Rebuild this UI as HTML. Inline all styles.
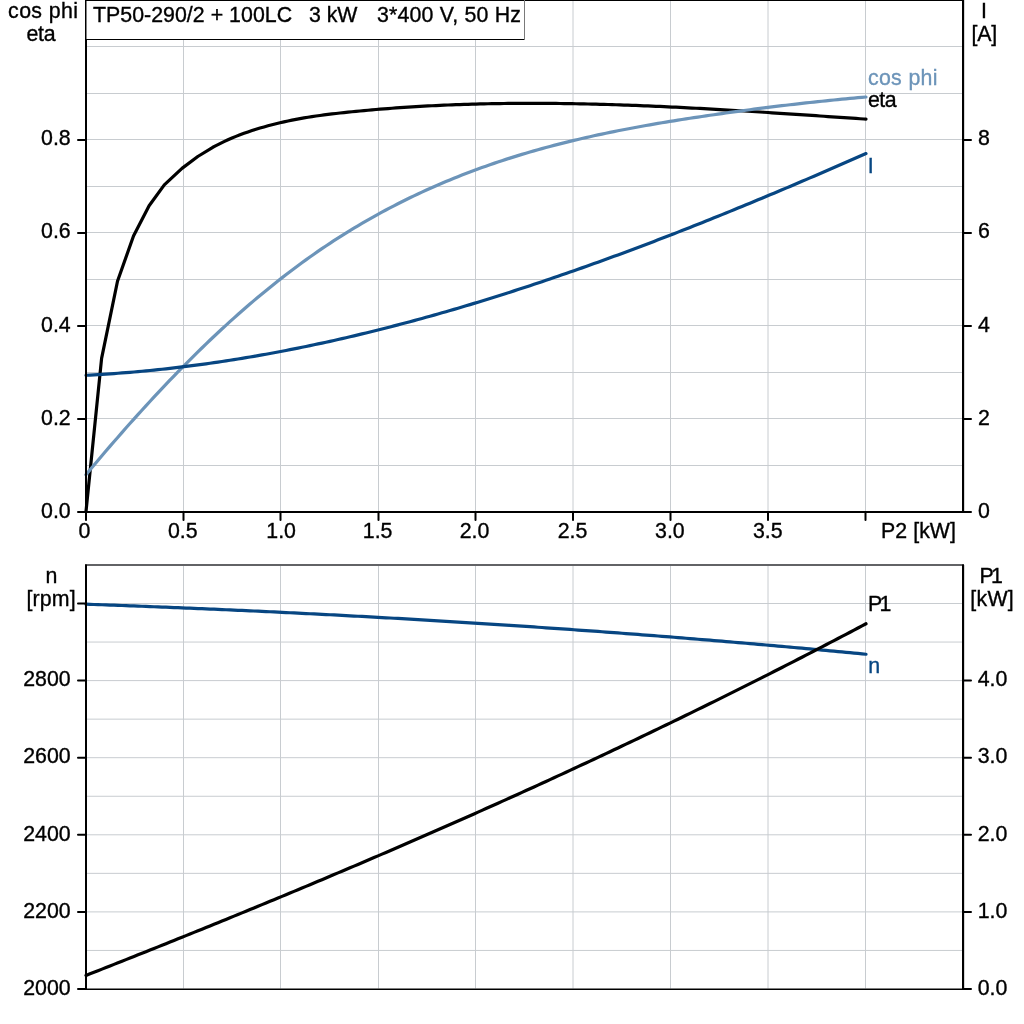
<!DOCTYPE html>
<html><head><meta charset="utf-8"><title>TP50-290/2 + 100LC 3 kW 3*400 V, 50 Hz</title>
<style>
html,body{margin:0;padding:0;background:#fff;overflow:hidden;}
svg{display:block;font-family:'Liberation Sans', Arial, sans-serif;font-size:21.33px;}
text{stroke:currentColor;stroke-width:0.35px;paint-order:stroke;}
</style></head><body>
<svg width="1024" height="1024" viewBox="0 0 1024 1024">
<rect width="1024" height="1024" fill="#fff"/>
<line x1="183.5" y1="1" x2="183.5" y2="511" stroke="#c8ccd0" stroke-width="1"/>
<line x1="280.5" y1="1" x2="280.5" y2="511" stroke="#c8ccd0" stroke-width="1"/>
<line x1="378.5" y1="1" x2="378.5" y2="511" stroke="#c8ccd0" stroke-width="1"/>
<line x1="475.5" y1="1" x2="475.5" y2="511" stroke="#c8ccd0" stroke-width="1"/>
<line x1="573.0" y1="1" x2="573.0" y2="511" stroke="#c8ccd0" stroke-width="1"/>
<line x1="670.5" y1="1" x2="670.5" y2="511" stroke="#c8ccd0" stroke-width="1"/>
<line x1="768.0" y1="1" x2="768.0" y2="511" stroke="#c8ccd0" stroke-width="1"/>
<line x1="865.5" y1="1" x2="865.5" y2="511" stroke="#c8ccd0" stroke-width="1"/>
<line x1="87" y1="46.5" x2="962" y2="46.5" stroke="#c8ccd0" stroke-width="1"/>
<line x1="87" y1="93.5" x2="962" y2="93.5" stroke="#c8ccd0" stroke-width="1"/>
<line x1="87" y1="139.5" x2="962" y2="139.5" stroke="#c8ccd0" stroke-width="1"/>
<line x1="87" y1="186.5" x2="962" y2="186.5" stroke="#c8ccd0" stroke-width="1"/>
<line x1="87" y1="232.5" x2="962" y2="232.5" stroke="#c8ccd0" stroke-width="1"/>
<line x1="87" y1="279.5" x2="962" y2="279.5" stroke="#c8ccd0" stroke-width="1"/>
<line x1="87" y1="325.5" x2="962" y2="325.5" stroke="#c8ccd0" stroke-width="1"/>
<line x1="87" y1="372.5" x2="962" y2="372.5" stroke="#c8ccd0" stroke-width="1"/>
<line x1="87" y1="418.5" x2="962" y2="418.5" stroke="#c8ccd0" stroke-width="1"/>
<line x1="87" y1="465.5" x2="962" y2="465.5" stroke="#c8ccd0" stroke-width="1"/>
<line x1="183.5" y1="565.6" x2="183.5" y2="988.5" stroke="#c8ccd0" stroke-width="1"/>
<line x1="280.5" y1="565.6" x2="280.5" y2="988.5" stroke="#c8ccd0" stroke-width="1"/>
<line x1="378.5" y1="565.6" x2="378.5" y2="988.5" stroke="#c8ccd0" stroke-width="1"/>
<line x1="475.5" y1="565.6" x2="475.5" y2="988.5" stroke="#c8ccd0" stroke-width="1"/>
<line x1="573.0" y1="565.6" x2="573.0" y2="988.5" stroke="#c8ccd0" stroke-width="1"/>
<line x1="670.5" y1="565.6" x2="670.5" y2="988.5" stroke="#c8ccd0" stroke-width="1"/>
<line x1="768.0" y1="565.6" x2="768.0" y2="988.5" stroke="#c8ccd0" stroke-width="1"/>
<line x1="865.5" y1="565.6" x2="865.5" y2="988.5" stroke="#c8ccd0" stroke-width="1"/>
<line x1="87" y1="603.50" x2="962" y2="603.50" stroke="#c8ccd0" stroke-width="1"/>
<line x1="87" y1="642.05" x2="962" y2="642.05" stroke="#c8ccd0" stroke-width="1"/>
<line x1="87" y1="680.60" x2="962" y2="680.60" stroke="#c8ccd0" stroke-width="1"/>
<line x1="87" y1="719.15" x2="962" y2="719.15" stroke="#c8ccd0" stroke-width="1"/>
<line x1="87" y1="757.70" x2="962" y2="757.70" stroke="#c8ccd0" stroke-width="1"/>
<line x1="87" y1="796.25" x2="962" y2="796.25" stroke="#c8ccd0" stroke-width="1"/>
<line x1="87" y1="834.80" x2="962" y2="834.80" stroke="#c8ccd0" stroke-width="1"/>
<line x1="87" y1="873.35" x2="962" y2="873.35" stroke="#c8ccd0" stroke-width="1"/>
<line x1="87" y1="911.90" x2="962" y2="911.90" stroke="#c8ccd0" stroke-width="1"/>
<line x1="87" y1="950.45" x2="962" y2="950.45" stroke="#c8ccd0" stroke-width="1"/>
<polyline points="86.00,511.50 101.60,358.40 117.50,281.20 133.50,236.00 149.10,205.80 164.30,184.90 182.00,168.40 197.80,156.50 212.80,147.30 216.00,145.67 220.00,143.60 224.00,141.64 228.00,139.78 232.00,138.02 236.00,136.36 240.00,134.79 244.00,133.30 248.00,131.89 252.00,130.55 256.00,129.28 260.00,128.07 264.00,126.92 268.00,125.82 272.00,124.77 276.00,123.76 280.00,122.79 284.00,121.88 288.00,121.00 292.00,120.17 296.00,119.38 300.00,118.63 304.00,117.92 308.00,117.25 312.00,116.62 316.00,116.03 320.00,115.47 324.00,114.93 328.00,114.42 332.00,113.94 336.00,113.47 340.00,113.02 344.00,112.59 348.00,112.17 352.00,111.76 356.00,111.36 360.00,110.97 364.00,110.59 368.00,110.22 372.00,109.87 376.00,109.52 380.00,109.18 384.00,108.86 388.00,108.54 392.00,108.24 396.00,107.95 400.00,107.66 404.00,107.39 408.00,107.12 412.00,106.87 416.00,106.62 420.00,106.39 424.00,106.16 428.00,105.94 432.00,105.74 436.00,105.54 440.00,105.35 444.00,105.17 448.00,105.00 452.00,104.84 456.00,104.69 460.00,104.54 464.00,104.41 468.00,104.28 472.00,104.16 476.00,104.05 480.00,103.95 484.00,103.86 488.00,103.77 492.00,103.69 496.00,103.62 500.00,103.56 504.00,103.51 508.00,103.46 512.00,103.42 516.00,103.39 520.00,103.37 524.00,103.35 528.00,103.34 532.00,103.34 536.00,103.34 540.00,103.35 544.00,103.37 548.00,103.40 552.00,103.43 556.00,103.47 560.00,103.51 564.00,103.56 568.00,103.62 572.00,103.68 576.00,103.75 580.00,103.83 584.00,103.91 588.00,104.00 592.00,104.09 596.00,104.19 600.00,104.30 604.00,104.41 608.00,104.52 612.00,104.64 616.00,104.77 620.00,104.90 624.00,105.03 628.00,105.17 632.00,105.32 636.00,105.47 640.00,105.63 644.00,105.79 648.00,105.95 652.00,106.12 656.00,106.29 660.00,106.47 664.00,106.65 668.00,106.84 672.00,107.03 676.00,107.22 680.00,107.42 684.00,107.62 688.00,107.82 692.00,108.03 696.00,108.24 700.00,108.45 704.00,108.67 708.00,108.89 712.00,109.12 716.00,109.34 720.00,109.57 724.00,109.81 728.00,110.04 732.00,110.28 736.00,110.52 740.00,110.76 744.00,111.01 748.00,111.26 752.00,111.50 756.00,111.76 760.00,112.01 764.00,112.27 768.00,112.52 772.00,112.78 776.00,113.04 780.00,113.30 784.00,113.57 788.00,113.83 792.00,114.10 796.00,114.37 800.00,114.63 804.00,114.90 808.00,115.17 812.00,115.45 816.00,115.72 820.00,115.99 824.00,116.26 828.00,116.54 832.00,116.81 836.00,117.08 840.00,117.36 844.00,117.63 848.00,117.91 852.00,118.18 856.00,118.45 860.00,118.73 864.00,119.00 866.00,119.14" fill="none" stroke="#000" stroke-width="3.2" stroke-linejoin="round" stroke-linecap="round"/>
<polyline points="85.90,474.79 89.90,469.99 93.90,465.22 97.90,460.47 101.90,455.76 105.90,451.07 109.90,446.41 113.90,441.78 117.90,437.18 121.90,432.60 125.90,428.06 129.90,423.55 133.90,419.07 137.90,414.63 141.90,410.21 145.90,405.82 149.90,401.47 153.90,397.15 157.90,392.87 161.90,388.61 165.90,384.39 169.90,380.21 173.90,376.06 177.90,371.94 181.90,367.86 185.90,363.81 189.90,359.80 193.90,355.82 197.90,351.88 201.90,347.98 205.90,344.11 209.90,340.28 213.90,336.48 217.90,332.73 221.90,329.01 225.90,325.33 229.90,321.69 233.90,318.08 237.90,314.52 241.90,310.99 245.90,307.50 249.90,304.05 253.90,300.64 257.90,297.27 261.90,293.94 265.90,290.65 269.90,287.39 273.90,284.18 277.90,281.00 281.90,277.87 285.90,274.77 289.90,271.71 293.90,268.69 297.90,265.71 301.90,262.77 305.90,259.88 309.90,257.02 313.90,254.20 317.90,251.42 321.90,248.68 325.90,245.98 329.90,243.32 333.90,240.70 337.90,238.12 341.90,235.57 345.90,233.07 349.90,230.60 353.90,228.17 357.90,225.78 361.90,223.42 365.90,221.09 369.90,218.81 373.90,216.56 377.90,214.34 381.90,212.16 385.90,210.01 389.90,207.89 393.90,205.81 397.90,203.76 401.90,201.74 405.90,199.75 409.90,197.80 413.90,195.88 417.90,193.98 421.90,192.12 425.90,190.29 429.90,188.48 433.90,186.71 437.90,184.97 441.90,183.25 445.90,181.56 449.90,179.90 453.90,178.27 457.90,176.66 461.90,175.08 465.90,173.53 469.90,172.01 473.90,170.51 477.90,169.03 481.90,167.58 485.90,166.16 489.90,164.76 493.90,163.38 497.90,162.03 501.90,160.70 505.90,159.39 509.90,158.11 513.90,156.85 517.90,155.61 521.90,154.39 525.90,153.20 529.90,152.02 533.90,150.87 537.90,149.73 541.90,148.62 545.90,147.53 549.90,146.45 553.90,145.40 557.90,144.36 561.90,143.34 565.90,142.34 569.90,141.35 573.90,140.39 577.90,139.44 581.90,138.50 585.90,137.59 589.90,136.69 593.90,135.80 597.90,134.93 601.90,134.07 605.90,133.23 609.90,132.40 613.90,131.59 617.90,130.79 621.90,130.00 625.90,129.23 629.90,128.47 633.90,127.72 637.90,126.98 641.90,126.25 645.90,125.54 649.90,124.83 653.90,124.13 657.90,123.45 661.90,122.77 665.90,122.11 669.90,121.45 673.90,120.80 677.90,120.16 681.90,119.53 685.90,118.90 689.90,118.29 693.90,117.67 697.90,117.07 701.90,116.47 705.90,115.88 709.90,115.29 713.90,114.71 717.90,114.13 721.90,113.57 725.90,113.00 729.90,112.44 733.90,111.89 737.90,111.34 741.90,110.80 745.90,110.27 749.90,109.74 753.90,109.21 757.90,108.70 761.90,108.18 765.90,107.68 769.90,107.18 773.90,106.68 777.90,106.20 781.90,105.71 785.90,105.24 789.90,104.77 793.90,104.30 797.90,103.85 801.90,103.39 805.90,102.95 809.90,102.51 813.90,102.07 817.90,101.65 821.90,101.23 825.90,100.81 829.90,100.40 833.90,100.00 837.90,99.60 841.90,99.21 845.90,98.83 849.90,98.45 853.90,98.08 857.90,97.71 861.90,97.36 865.90,97.00 866.00,97.00" fill="none" stroke="#6c94b9" stroke-width="3.2" stroke-linejoin="round" stroke-linecap="round"/>
<polyline points="86.00,375.25 90.00,375.04 94.00,374.82 98.00,374.59 102.00,374.35 106.00,374.10 110.00,373.83 114.00,373.55 118.00,373.26 122.00,372.95 126.00,372.64 130.00,372.31 134.00,371.97 138.00,371.61 142.00,371.25 146.00,370.87 150.00,370.48 154.00,370.08 158.00,369.67 162.00,369.24 166.00,368.81 170.00,368.36 174.00,367.90 178.00,367.43 182.00,366.95 186.00,366.45 190.00,365.95 194.00,365.43 198.00,364.90 202.00,364.36 206.00,363.81 210.00,363.24 214.00,362.67 218.00,362.09 222.00,361.49 226.00,360.88 230.00,360.26 234.00,359.63 238.00,358.99 242.00,358.34 246.00,357.68 250.00,357.00 254.00,356.32 258.00,355.63 262.00,354.92 266.00,354.20 270.00,353.48 274.00,352.74 278.00,351.99 282.00,351.23 286.00,350.46 290.00,349.68 294.00,348.89 298.00,348.09 302.00,347.28 306.00,346.46 310.00,345.63 314.00,344.79 318.00,343.94 322.00,343.08 326.00,342.21 330.00,341.33 334.00,340.44 338.00,339.54 342.00,338.63 346.00,337.71 350.00,336.78 354.00,335.84 358.00,334.89 362.00,333.93 366.00,332.96 370.00,331.98 374.00,330.99 378.00,330.00 382.00,328.99 386.00,327.98 390.00,326.95 394.00,325.92 398.00,324.88 402.00,323.82 406.00,322.76 410.00,321.69 414.00,320.62 418.00,319.53 422.00,318.43 426.00,317.33 430.00,316.21 434.00,315.09 438.00,313.96 442.00,312.82 446.00,311.67 450.00,310.51 454.00,309.35 458.00,308.17 462.00,306.99 466.00,305.80 470.00,304.60 474.00,303.39 478.00,302.18 482.00,300.96 486.00,299.72 490.00,298.48 494.00,297.24 498.00,295.98 502.00,294.72 506.00,293.45 510.00,292.17 514.00,290.88 518.00,289.59 522.00,288.29 526.00,286.98 530.00,285.66 534.00,284.34 538.00,283.00 542.00,281.66 546.00,280.32 550.00,278.96 554.00,277.60 558.00,276.24 562.00,274.86 566.00,273.48 570.00,272.09 574.00,270.69 578.00,269.29 582.00,267.88 586.00,266.46 590.00,265.04 594.00,263.61 598.00,262.17 602.00,260.73 606.00,259.28 610.00,257.82 614.00,256.36 618.00,254.89 622.00,253.41 626.00,251.93 630.00,250.44 634.00,248.95 638.00,247.45 642.00,245.94 646.00,244.43 650.00,242.91 654.00,241.39 658.00,239.86 662.00,238.32 666.00,236.78 670.00,235.23 674.00,233.68 678.00,232.12 682.00,230.56 686.00,228.99 690.00,227.41 694.00,225.83 698.00,224.24 702.00,222.65 706.00,221.06 710.00,219.46 714.00,217.85 718.00,216.24 722.00,214.62 726.00,213.00 730.00,211.37 734.00,209.74 738.00,208.10 742.00,206.46 746.00,204.82 750.00,203.17 754.00,201.51 758.00,199.85 762.00,198.19 766.00,196.52 770.00,194.85 774.00,193.17 778.00,191.49 782.00,189.81 786.00,188.12 790.00,186.42 794.00,184.73 798.00,183.02 802.00,181.32 806.00,179.61 810.00,177.90 814.00,176.18 818.00,174.46 822.00,172.74 826.00,171.01 830.00,169.28 834.00,167.54 838.00,165.81 842.00,164.06 846.00,162.32 850.00,160.57 854.00,158.82 858.00,157.07 862.00,155.31 866.00,153.55" fill="none" stroke="#074682" stroke-width="3.2" stroke-linejoin="round" stroke-linecap="round"/>
<polyline points="86.00,604.20 90.00,604.34 94.00,604.48 98.00,604.63 102.00,604.77 106.00,604.91 110.00,605.06 114.00,605.20 118.00,605.35 122.00,605.50 126.00,605.65 130.00,605.80 134.00,605.95 138.00,606.11 142.00,606.26 146.00,606.42 150.00,606.57 154.00,606.73 158.00,606.89 162.00,607.05 166.00,607.21 170.00,607.37 174.00,607.53 178.00,607.69 182.00,607.86 186.00,608.03 190.00,608.19 194.00,608.36 198.00,608.53 202.00,608.70 206.00,608.87 210.00,609.05 214.00,609.22 218.00,609.39 222.00,609.57 226.00,609.75 230.00,609.93 234.00,610.10 238.00,610.29 242.00,610.47 246.00,610.65 250.00,610.83 254.00,611.02 258.00,611.21 262.00,611.39 266.00,611.58 270.00,611.77 274.00,611.96 278.00,612.15 282.00,612.35 286.00,612.54 290.00,612.74 294.00,612.93 298.00,613.13 302.00,613.33 306.00,613.53 310.00,613.73 314.00,613.93 318.00,614.14 322.00,614.34 326.00,614.55 330.00,614.76 334.00,614.97 338.00,615.18 342.00,615.39 346.00,615.60 350.00,615.81 354.00,616.03 358.00,616.24 362.00,616.46 366.00,616.68 370.00,616.90 374.00,617.12 378.00,617.34 382.00,617.56 386.00,617.79 390.00,618.01 394.00,618.24 398.00,618.47 402.00,618.69 406.00,618.92 410.00,619.16 414.00,619.39 418.00,619.62 422.00,619.86 426.00,620.09 430.00,620.33 434.00,620.57 438.00,620.81 442.00,621.05 446.00,621.30 450.00,621.54 454.00,621.78 458.00,622.03 462.00,622.28 466.00,622.53 470.00,622.78 474.00,623.03 478.00,623.28 482.00,623.54 486.00,623.79 490.00,624.05 494.00,624.31 498.00,624.57 502.00,624.83 506.00,625.09 510.00,625.35 514.00,625.62 518.00,625.88 522.00,626.15 526.00,626.42 530.00,626.69 534.00,626.96 538.00,627.23 542.00,627.50 546.00,627.78 550.00,628.06 554.00,628.33 558.00,628.61 562.00,628.89 566.00,629.17 570.00,629.46 574.00,629.74 578.00,630.03 582.00,630.31 586.00,630.60 590.00,630.89 594.00,631.18 598.00,631.47 602.00,631.77 606.00,632.06 610.00,632.36 614.00,632.66 618.00,632.95 622.00,633.25 626.00,633.56 630.00,633.86 634.00,634.16 638.00,634.47 642.00,634.78 646.00,635.08 650.00,635.39 654.00,635.71 658.00,636.02 662.00,636.33 666.00,636.65 670.00,636.96 674.00,637.28 678.00,637.60 682.00,637.92 686.00,638.24 690.00,638.57 694.00,638.89 698.00,639.22 702.00,639.55 706.00,639.88 710.00,640.21 714.00,640.54 718.00,640.87 722.00,641.21 726.00,641.54 730.00,641.88 734.00,642.22 738.00,642.56 742.00,642.90 746.00,643.25 750.00,643.59 754.00,643.94 758.00,644.29 762.00,644.64 766.00,644.99 770.00,645.34 774.00,645.69 778.00,646.05 782.00,646.40 786.00,646.76 790.00,647.12 794.00,647.48 798.00,647.84 802.00,648.21 806.00,648.57 810.00,648.94 814.00,649.31 818.00,649.68 822.00,650.05 826.00,650.42 830.00,650.80 834.00,651.17 838.00,651.55 842.00,651.93 846.00,652.31 850.00,652.69 854.00,653.07 858.00,653.46 862.00,653.84 866.00,654.23" fill="none" stroke="#074682" stroke-width="3.2" stroke-linejoin="round" stroke-linecap="round"/>
<polyline points="86.00,975.42 90.00,973.84 94.00,972.27 98.00,970.69 102.00,969.12 106.00,967.54 110.00,965.96 114.00,964.38 118.00,962.79 122.00,961.21 126.00,959.62 130.00,958.03 134.00,956.44 138.00,954.85 142.00,953.26 146.00,951.66 150.00,950.07 154.00,948.47 158.00,946.87 162.00,945.27 166.00,943.66 170.00,942.06 174.00,940.45 178.00,938.84 182.00,937.23 186.00,935.62 190.00,934.01 194.00,932.39 198.00,930.78 202.00,929.16 206.00,927.54 210.00,925.91 214.00,924.29 218.00,922.66 222.00,921.03 226.00,919.40 230.00,917.77 234.00,916.13 238.00,914.50 242.00,912.86 246.00,911.22 250.00,909.58 254.00,907.93 258.00,906.28 262.00,904.64 266.00,902.99 270.00,901.33 274.00,899.68 278.00,898.02 282.00,896.36 286.00,894.70 290.00,893.04 294.00,891.37 298.00,889.70 302.00,888.03 306.00,886.36 310.00,884.69 314.00,883.01 318.00,881.33 322.00,879.65 326.00,877.96 330.00,876.28 334.00,874.59 338.00,872.90 342.00,871.21 346.00,869.51 350.00,867.81 354.00,866.11 358.00,864.41 362.00,862.71 366.00,861.00 370.00,859.29 374.00,857.58 378.00,855.86 382.00,854.15 386.00,852.43 390.00,850.70 394.00,848.98 398.00,847.25 402.00,845.52 406.00,843.79 410.00,842.06 414.00,840.32 418.00,838.58 422.00,836.84 426.00,835.09 430.00,833.34 434.00,831.59 438.00,829.84 442.00,828.08 446.00,826.32 450.00,824.56 454.00,822.80 458.00,821.03 462.00,819.26 466.00,817.49 470.00,815.71 474.00,813.93 478.00,812.15 482.00,810.37 486.00,808.58 490.00,806.79 494.00,805.00 498.00,803.21 502.00,801.41 506.00,799.61 510.00,797.80 514.00,796.00 518.00,794.19 522.00,792.37 526.00,790.56 530.00,788.74 534.00,786.92 538.00,785.09 542.00,783.26 546.00,781.43 550.00,779.60 554.00,777.76 558.00,775.92 562.00,774.08 566.00,772.23 570.00,770.38 574.00,768.53 578.00,766.67 582.00,764.81 586.00,762.95 590.00,761.08 594.00,759.21 598.00,757.34 602.00,755.46 606.00,753.59 610.00,751.70 614.00,749.82 618.00,747.93 622.00,746.04 626.00,744.14 630.00,742.24 634.00,740.34 638.00,738.44 642.00,736.53 646.00,734.61 650.00,732.70 654.00,730.78 658.00,728.86 662.00,726.93 666.00,725.00 670.00,723.07 674.00,721.13 678.00,719.19 682.00,717.25 686.00,715.30 690.00,713.35 694.00,711.39 698.00,709.43 702.00,707.47 706.00,705.51 710.00,703.54 714.00,701.57 718.00,699.59 722.00,697.61 726.00,695.63 730.00,693.64 734.00,691.65 738.00,689.65 742.00,687.65 746.00,685.65 750.00,683.64 754.00,681.63 758.00,679.62 762.00,677.60 766.00,675.58 770.00,673.56 774.00,671.53 778.00,669.49 782.00,667.46 786.00,665.41 790.00,663.37 794.00,661.32 798.00,659.27 802.00,657.21 806.00,655.15 810.00,653.09 814.00,651.02 818.00,648.94 822.00,646.87 826.00,644.79 830.00,642.70 834.00,640.61 838.00,638.52 842.00,636.42 846.00,634.32 850.00,632.21 854.00,630.10 858.00,627.99 862.00,625.87 866.00,623.75" fill="none" stroke="#000" stroke-width="3.2" stroke-linejoin="round" stroke-linecap="round"/>
<rect x="85" y="0" width="879" height="1" fill="#000"/>
<rect x="85" y="39" width="2" height="474" fill="#000"/>
<rect x="85" y="0" width="1" height="39" fill="#000"/>
<rect x="86" y="1" width="1" height="38" fill="#808080"/>
<rect x="962" y="0" width="2" height="513" fill="#000"/>
<rect x="964" y="0" width="1" height="511" fill="#d6d6d6"/>
<rect x="85" y="511" width="879" height="2" fill="#000"/>
<line x1="78" y1="140" x2="86" y2="140" stroke="#000" stroke-width="2" stroke-linecap="round"/>
<line x1="963" y1="140" x2="971" y2="140" stroke="#000" stroke-width="2" stroke-linecap="round"/>
<line x1="78" y1="233" x2="86" y2="233" stroke="#000" stroke-width="2" stroke-linecap="round"/>
<line x1="963" y1="233" x2="971" y2="233" stroke="#000" stroke-width="2" stroke-linecap="round"/>
<line x1="78" y1="326" x2="86" y2="326" stroke="#000" stroke-width="2" stroke-linecap="round"/>
<line x1="963" y1="326" x2="971" y2="326" stroke="#000" stroke-width="2" stroke-linecap="round"/>
<line x1="78" y1="419" x2="86" y2="419" stroke="#000" stroke-width="2" stroke-linecap="round"/>
<line x1="963" y1="419" x2="971" y2="419" stroke="#000" stroke-width="2" stroke-linecap="round"/>
<line x1="78" y1="512" x2="86" y2="512" stroke="#000" stroke-width="2" stroke-linecap="round"/>
<line x1="963" y1="512" x2="971" y2="512" stroke="#000" stroke-width="2" stroke-linecap="round"/>
<line x1="86.0" y1="512" x2="86.0" y2="520" stroke="#000" stroke-width="2" stroke-linecap="round"/>
<line x1="183.5" y1="512" x2="183.5" y2="520" stroke="#000" stroke-width="2" stroke-linecap="round"/>
<line x1="280.5" y1="512" x2="280.5" y2="520" stroke="#000" stroke-width="2" stroke-linecap="round"/>
<line x1="378.5" y1="512" x2="378.5" y2="520" stroke="#000" stroke-width="2" stroke-linecap="round"/>
<line x1="475.5" y1="512" x2="475.5" y2="520" stroke="#000" stroke-width="2" stroke-linecap="round"/>
<line x1="573.0" y1="512" x2="573.0" y2="520" stroke="#000" stroke-width="2" stroke-linecap="round"/>
<line x1="670.5" y1="512" x2="670.5" y2="520" stroke="#000" stroke-width="2" stroke-linecap="round"/>
<line x1="768.0" y1="512" x2="768.0" y2="520" stroke="#000" stroke-width="2" stroke-linecap="round"/>
<line x1="865.5" y1="512" x2="865.5" y2="520" stroke="#000" stroke-width="2" stroke-linecap="round"/>
<rect x="87" y="1" width="437" height="38" fill="#fff"/>
<rect x="85" y="39" width="439" height="1" fill="#000"/>
<rect x="524" y="0" width="1" height="40" fill="#7a7a7a"/>
<rect x="85" y="564" width="879" height="2" fill="#626366"/>
<rect x="85" y="564.5" width="2" height="425.5" fill="#000"/>
<rect x="962" y="564.5" width="2" height="425.5" fill="#000"/>
<rect x="964" y="565" width="1" height="423.5" fill="#d6d6d6"/>
<rect x="85" y="988.5" width="879" height="1.5" fill="#000"/>
<line x1="78" y1="603.50" x2="86" y2="603.50" stroke="#000" stroke-width="2" stroke-linecap="round"/>
<line x1="78" y1="680.60" x2="86" y2="680.60" stroke="#000" stroke-width="2" stroke-linecap="round"/>
<line x1="963" y1="680.60" x2="971" y2="680.60" stroke="#000" stroke-width="2" stroke-linecap="round"/>
<line x1="78" y1="757.70" x2="86" y2="757.70" stroke="#000" stroke-width="2" stroke-linecap="round"/>
<line x1="963" y1="757.70" x2="971" y2="757.70" stroke="#000" stroke-width="2" stroke-linecap="round"/>
<line x1="78" y1="834.80" x2="86" y2="834.80" stroke="#000" stroke-width="2" stroke-linecap="round"/>
<line x1="963" y1="834.80" x2="971" y2="834.80" stroke="#000" stroke-width="2" stroke-linecap="round"/>
<line x1="78" y1="911.90" x2="86" y2="911.90" stroke="#000" stroke-width="2" stroke-linecap="round"/>
<line x1="963" y1="911.90" x2="971" y2="911.90" stroke="#000" stroke-width="2" stroke-linecap="round"/>
<line x1="78" y1="989.00" x2="86" y2="989.00" stroke="#000" stroke-width="2" stroke-linecap="round"/>
<line x1="963" y1="989.00" x2="971" y2="989.00" stroke="#000" stroke-width="2" stroke-linecap="round"/>
<text x="92.92" y="22" text-anchor="start" fill="#000" color="#000" textLength="199.2" lengthAdjust="spacing">TP50-290/2 + 100LC</text>
<text x="308.95" y="22" text-anchor="start" fill="#000" color="#000" textLength="48.49" lengthAdjust="spacing">3 kW</text>
<text x="376.95" y="22" text-anchor="start" fill="#000" color="#000" textLength="143.96" lengthAdjust="spacing">3*400 V, 50 Hz</text>
<text x="8.1" y="18" text-anchor="start" fill="#000" color="#000" textLength="69.78" lengthAdjust="spacing">cos phi</text>
<text x="26.4" y="41" text-anchor="start" fill="#000" color="#000" textLength="29.13" lengthAdjust="spacing">eta</text>
<text x="981.12" y="18" text-anchor="start" fill="#000" color="#000">I</text>
<text x="971.59" y="41" text-anchor="start" fill="#000" color="#000" textLength="25.58" lengthAdjust="spacing">[A]</text>
<text x="41.05" y="145" text-anchor="start" fill="#000" color="#000">0.8</text>
<text x="41.05" y="238" text-anchor="start" fill="#000" color="#000">0.6</text>
<text x="41.05" y="332" text-anchor="start" fill="#000" color="#000">0.4</text>
<text x="41.05" y="425" text-anchor="start" fill="#000" color="#000">0.2</text>
<text x="41.05" y="518" text-anchor="start" fill="#000" color="#000">0.0</text>
<text x="977.9" y="145" text-anchor="start" fill="#000" color="#000">8</text>
<text x="977.9" y="238" text-anchor="start" fill="#000" color="#000">6</text>
<text x="977.9" y="332" text-anchor="start" fill="#000" color="#000">4</text>
<text x="977.9" y="425" text-anchor="start" fill="#000" color="#000">2</text>
<text x="977.9" y="518" text-anchor="start" fill="#000" color="#000">0</text>
<text x="78.5" y="538" text-anchor="start" fill="#000" color="#000">0</text>
<text x="167.97" y="538" text-anchor="start" fill="#000" color="#000">0.5</text>
<text x="266.32" y="538" text-anchor="start" fill="#000" color="#000">1.0</text>
<text x="362.83" y="538" text-anchor="start" fill="#000" color="#000">1.5</text>
<text x="459.76" y="538" text-anchor="start" fill="#000" color="#000">2.0</text>
<text x="557.69" y="538" text-anchor="start" fill="#000" color="#000">2.5</text>
<text x="655.06" y="538" text-anchor="start" fill="#000" color="#000">3.0</text>
<text x="752.89" y="538" text-anchor="start" fill="#000" color="#000">3.5</text>
<text x="881.12" y="538" text-anchor="start" fill="#000" color="#000" textLength="74.85" lengthAdjust="spacing">P2 [kW]</text>
<text x="867.9" y="85" text-anchor="start" fill="#6c94b9" color="#6c94b9" textLength="69.68" lengthAdjust="spacing">cos phi</text>
<text x="867.9" y="107" text-anchor="start" fill="#000" color="#000" textLength="28.73" lengthAdjust="spacing">eta</text>
<text x="867.75" y="173" text-anchor="start" fill="#074682" color="#074682">I</text>
<text x="45.52" y="583" text-anchor="start" fill="#000" color="#000">n</text>
<text x="26.49" y="606" text-anchor="start" fill="#000" color="#000" textLength="49.2" lengthAdjust="spacing">[rpm]</text>
<text x="23.24" y="686" text-anchor="start" fill="#000" color="#000">2800</text>
<text x="23.24" y="763" text-anchor="start" fill="#000" color="#000">2600</text>
<text x="23.24" y="841" text-anchor="start" fill="#000" color="#000">2400</text>
<text x="23.24" y="918" text-anchor="start" fill="#000" color="#000">2200</text>
<text x="23.24" y="995" text-anchor="start" fill="#000" color="#000">2000</text>
<text x="979.47" y="583" text-anchor="start" fill="#000" color="#000" textLength="23.32" lengthAdjust="spacing">P1</text>
<text x="970.34" y="606" text-anchor="start" fill="#000" color="#000" textLength="43.41" lengthAdjust="spacing">[kW]</text>
<text x="977.67" y="686" text-anchor="start" fill="#000" color="#000">4.0</text>
<text x="977.67" y="763" text-anchor="start" fill="#000" color="#000">3.0</text>
<text x="977.67" y="841" text-anchor="start" fill="#000" color="#000">2.0</text>
<text x="977.67" y="918" text-anchor="start" fill="#000" color="#000">1.0</text>
<text x="977.67" y="995" text-anchor="start" fill="#000" color="#000">0.0</text>
<text x="868.02" y="611" text-anchor="start" fill="#000" color="#000" textLength="23.37" lengthAdjust="spacing">P1</text>
<text x="868.24" y="673" text-anchor="start" fill="#074682" color="#074682">n</text>
</svg>
</body></html>
